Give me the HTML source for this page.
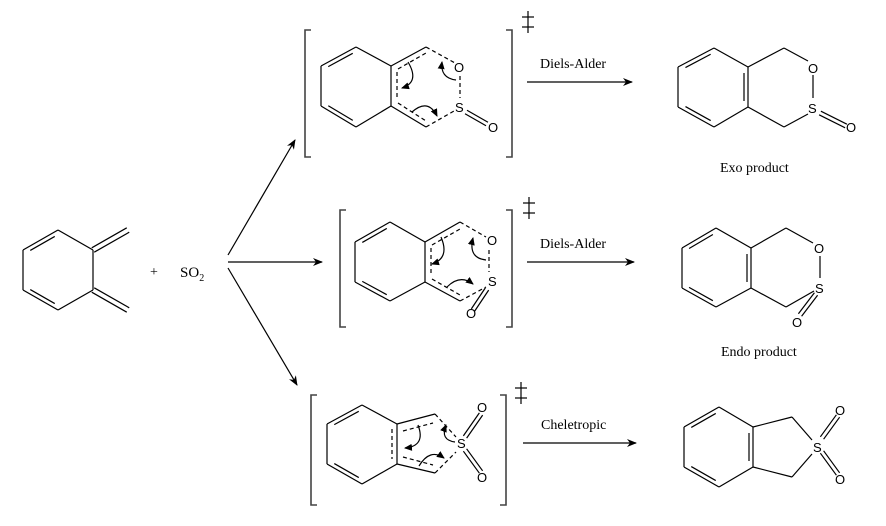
<!DOCTYPE html>
<html><head><meta charset="utf-8"><style>
html,body{margin:0;padding:0;background:#fff;}
svg{display:block;}
text{font-family:"Liberation Serif",serif;fill:#000;}
.a{font-family:"Liberation Sans",sans-serif;font-size:13px;}
</style></head><body>
<svg id="s" width="886" height="526" viewBox="0 0 886 526" xmlns="http://www.w3.org/2000/svg">
<defs><marker id="ah" markerWidth="10" markerHeight="8" refX="9" refY="4" orient="auto" markerUnits="userSpaceOnUse"><path d="M0,0 L10,4 L0,8 L3,4 z" fill="#000"/></marker>
<marker id="ch" markerWidth="8" markerHeight="7" refX="7" refY="3.5" orient="auto" markerUnits="userSpaceOnUse"><path d="M0,0 L8,3.5 L0,7 z" fill="#000"/></marker></defs>
<g id="g" stroke="#000" stroke-width="1.2" fill="none"></g>
<text x="150" y="276" font-size="14">+</text>
<text x="180" y="277" font-size="15">SO<tspan font-size="10" dy="4">2</tspan></text>
<text x="540" y="68" font-size="14">Diels-Alder</text>
<text x="540" y="248" font-size="14">Diels-Alder</text>
<text x="541" y="429" font-size="14">Cheletropic</text>
<text x="720" y="172" font-size="14">Exo product</text>
<text x="721" y="356" font-size="14">Endo product</text>
<text class="a" x="454" y="72">O</text>
<text class="a" x="455" y="112">S</text>
<text class="a" x="488" y="132">O</text>
<text class="a" x="487" y="245">O</text>
<text class="a" x="488" y="286">S</text>
<text class="a" x="466" y="318">O</text>
<text class="a" x="457" y="448">S</text>
<text class="a" x="477" y="412">O</text>
<text class="a" x="477" y="482">O</text>
<text class="a" x="808" y="73">O</text>
<text class="a" x="808" y="113">S</text>
<text class="a" x="846" y="132">O</text>
<text class="a" x="814" y="253">O</text>
<text class="a" x="815" y="293">S</text>
<text class="a" x="792" y="327">O</text>
<text class="a" x="813" y="452">S</text>
<text class="a" x="835" y="415">O</text>
<text class="a" x="835" y="484">O</text>
</svg>
<script>
var g=document.getElementById('g');
function L(x1,y1,x2,y2,extra){var e=document.createElementNS('http://www.w3.org/2000/svg','line');e.setAttribute('x1',x1);e.setAttribute('y1',y1);e.setAttribute('x2',x2);e.setAttribute('y2',y2);if(extra)for(var k in extra)e.setAttribute(k,extra[k]);g.appendChild(e);}
function P(d,extra){var e=document.createElementNS('http://www.w3.org/2000/svg','path');e.setAttribute('d',d);if(extra)for(var k in extra)e.setAttribute(k,extra[k]);g.appendChild(e);}
var D={'stroke-dasharray':'4,3'};
function inner(a,b,c,f){// inner parallel line toward center c, shortened
 var mx=(a[0]+b[0])/2,my=(a[1]+b[1])/2,dx=c[0]-mx,dy=c[1]-my,l=Math.hypot(dx,dy),o=4;
 var ox=dx/l*o,oy=dy/l*o,t=0.15;
 L(a[0]+(b[0]-a[0])*t+ox,a[1]+(b[1]-a[1])*t+oy,b[0]-(b[0]-a[0])*t+ox,b[1]-(b[1]-a[1])*t+oy,f);}
function benz(cx,cy,fusedDouble){var r=40/2*2/ Math.sqrt(3)*Math.sqrt(3)/1; // side ~40
 var p=[[cx-35,cy-20],[cx,cy-40],[cx+35,cy-20],[cx+35,cy+20],[cx,cy+40],[cx-35,cy+20]];
 for(var i=0;i<6;i++){var a=p[i],b=p[(i+1)%6];L(a[0],a[1],b[0],b[1]);}
 var c=[cx,cy];inner(p[0],p[1],c);inner(p[4],p[5],c);
 if(fusedDouble)inner(p[2],p[3],c);else inner(p[2],p[3],c);
 return p;}
function dbl(x1,y1,x2,y2,off){var dx=x2-x1,dy=y2-y1,l=Math.hypot(dx,dy),nx=-dy/l*off/2,ny=dx/l*off/2;L(x1+nx,y1+ny,x2+nx,y2+ny);L(x1-nx,y1-ny,x2-nx,y2-ny);}
// reactant
var p=[[23,250],[58,230],[93,250],[93,290],[58,310],[23,290]];
for(var i=0;i<6;i++){var a=p[i],b=p[(i+1)%6];L(a[0],a[1],b[0],b[1]);}
inner(p[0],p[1],[58,270]);inner(p[4],p[5],[58,270]);
dbl(93,250,128,230,5);dbl(93,290,128,310,5);
// arrows from SO2
L(228,255,295,140,{'marker-end':'url(#ah)'});
L(228,262,322,262,{'marker-end':'url(#ah)'});
L(228,268,297,385,{'marker-end':'url(#ah)'});
L(527,82,632,82,{'marker-end':'url(#ah)'});
L(527,262,634,262,{'marker-end':'url(#ah)'});
L(523,443,636,443,{'marker-end':'url(#ah)'});
// brackets
function br(x1,x2,y1,y2){P('M'+(x1+6)+','+y1+' H'+x1+' V'+y2+' H'+(x1+6),{stroke:'#444','stroke-width':1.6});P('M'+(x2-6)+','+y1+' H'+x2+' V'+y2+' H'+(x2-6),{stroke:'#444','stroke-width':1.6});}
function dag(x,y){L(x-6,y,x+6,y);L(x,y-6,x,y+16);L(x-6,y+10,x+6,y+10);}
br(305,512,30,157);dag(528,17);
br(340,512,210,327);dag(529,203);
br(311,506,395,505);dag(521,388);
// top intermediate
function ring6(p){for(var i=0;i<6;i++){var a=p[i],b=p[(i+1)%6];L(a[0],a[1],b[0],b[1]);}inner(p[0],p[1],[p[1][0],(p[1][1]+p[4][1])/2]);inner(p[4],p[5],[p[1][0],(p[1][1]+p[4][1])/2]);}
ring6([[321,66],[356,47],[391,66],[391,106],[356,127],[321,106]]);
L(391,66,426,47);L(391,106,426,127);
L(397,72,397,100,D);L(398,69,426,53,D);L(398,103,426,121,D);
L(426,47,455,63,D);L(460,76,460,98,D);L(426,127,454,111,D);dbl(466,112,487,124,4);
P('M408,62 Q420,82 402,88',{'marker-end':'url(#ch)'});
P('M456,80 Q440,78 442,62',{'marker-end':'url(#ch)'});
P('M412,112 Q428,98 437,116',{'marker-end':'url(#ch)'});
// middle intermediate
ring6([[355,242],[390,222],[425,242],[425,282],[390,301],[355,282]]);
L(425,242,460,222);L(425,282,460,301);
L(431,248,431,276,D);L(432,245,460,229,D);L(432,279,460,295,D);
L(460,222,486,237,D);L(489,250,489,272,D);L(460,301,486,287,D);dbl(487,289,473,310,4);
P('M441,237 Q450,258 432,264',{'marker-end':'url(#ch)'});
P('M486,260 Q468,258 473,238',{'marker-end':'url(#ch)'});
P('M447,287 Q460,274 473,284',{'marker-end':'url(#ch)'});
// bottom intermediate
ring6([[327,424],[362,405],[397,424],[397,464],[362,484],[327,464]]);
L(397,424,435,414);L(397,464,435,473);
L(392,429,392,459,D);L(403,431,433,423,D);L(403,457,433,465,D);
L(435,414,456,437,D);L(435,473,456,452,D);dbl(465,437,481,414,4);dbl(465,450,481,472,4);
P('M418,425 Q426,446 405,448',{'marker-end':'url(#ch)'});
P('M455,442 Q440,440 446,425',{'marker-end':'url(#ch)'});
P('M419,466 Q430,448 444,458',{'marker-end':'url(#ch)'});
// products
ring6([[678,67],[714,48],[748,67],[748,107],[714,127],[678,107]]);inner([748,67],[748,107],[714,87]);
L(748,67,784,48);L(784,48,808,61);L(813,75,813,98);L(748,107,784,127);L(784,127,808,114);dbl(820,113,846,126,4);
ring6([[682,248],[716,228],[751,248],[751,288],[716,307],[682,288]]);inner([751,248],[751,288],[716,268]);
L(751,248,786,228);L(786,228,813,243);L(820,256,820,278);L(751,288,786,307);L(786,307,814,291);dbl(816,294,800,315,4);
ring6([[684,427],[719,407],[753,427],[753,467],[719,487],[684,467]]);inner([753,427],[753,467],[719,447]);
L(753,427,792,417);L(792,417,812,440);L(753,467,792,477);L(792,477,812,454);dbl(822,438,838,416,4);dbl(822,452,838,474,4);
</script>
</body></html>
